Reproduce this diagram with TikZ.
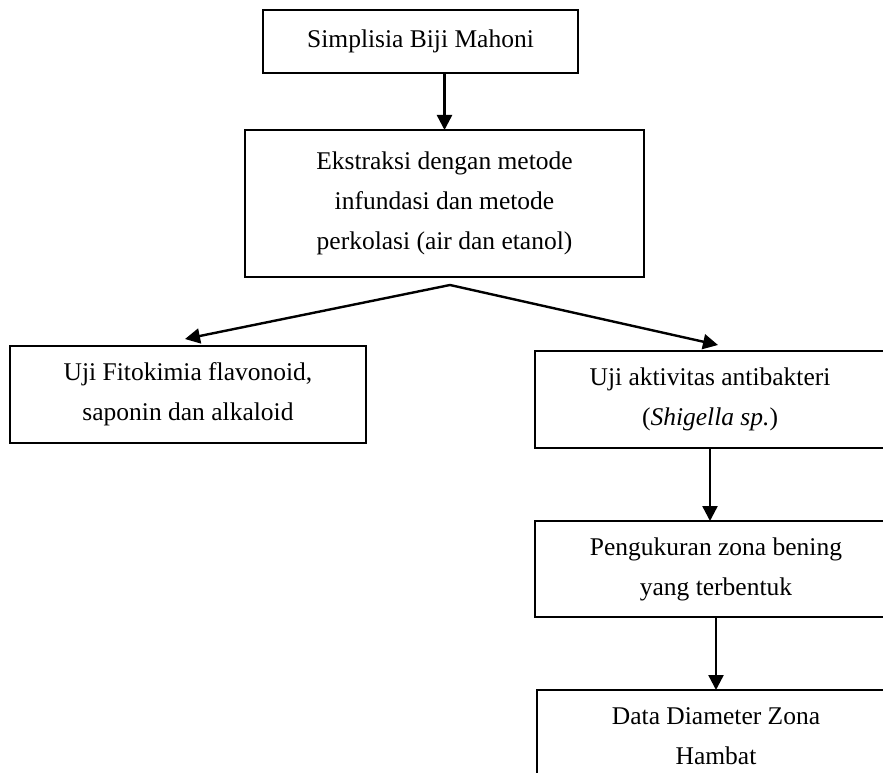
\documentclass[tikz,border=0pt]{standalone}
\usepackage{fontspec}
\setmainfont{Liberation Serif}
\usetikzlibrary{arrows.meta,positioning}

\begin{document}
\begin{tikzpicture}[x=1pt,y=-1pt,every node/.style={draw,outer sep=0pt,line width=1.6pt,align=center,inner sep=0pt,font=\fontsize{25.5}{40}\selectfont}]
      \tikzstyle{arrow}=[line width=2.4pt,-{Triangle[length=15pt,width=15pt]}]
      \tikzstyle{split}=[line width=2.4pt,{Triangle[length=15pt,width=15pt]}-{Triangle[length=15pt,width=15pt]}]
      \useasboundingbox (0,0) rectangle (883,773);
      \clip (0,0) rectangle (883,773);

      \node (simplisia) at (420.5,41.5) [minimum width=315pt,minimum height=63pt] {Simplisia Biji Mahoni};
      \node (ekstraksi) at (444.5,203.5) [minimum width=399pt,minimum height=147pt] {Ekstraksi dengan metode\\infundasi dan metode\\perkolasi (air dan etanol)};
      \node (fitokimia) at (188,394.5) [minimum width=356pt,minimum height=97pt] {Uji Fitokimia flavonoid,\\saponin dan alkaloid};
      \node (antibakteri) at (710,399.5) [minimum width=350pt,minimum height=97pt] {Uji aktivitas antibakteri\\(\textit{Shigella sp.})};
      \node (pengukuran) at (716,569) [minimum width=362pt,minimum height=96pt] {Pengukuran zona bening\\yang terbentuk};
      \node (diameter) at (716,736) [minimum width=358pt,minimum height=92pt] {Data Diameter Zona\\Hambat};

      \coordinate (apex) at (450,285);
      \coordinate (fitoin) at (185,339);
      \coordinate (antiin) at (718,345);

      \draw [arrow] (simplisia.south -| ekstraksi.north) -- (ekstraksi.north);
      \draw [split] (fitoin) -- (apex) -- (antiin);
      \draw [arrow] (antibakteri.south) -- (antibakteri.south |- pengukuran.north);
      \draw [arrow] (pengukuran.south) -- (pengukuran.south |- diameter.north);
    \end{tikzpicture}
\end{document}
